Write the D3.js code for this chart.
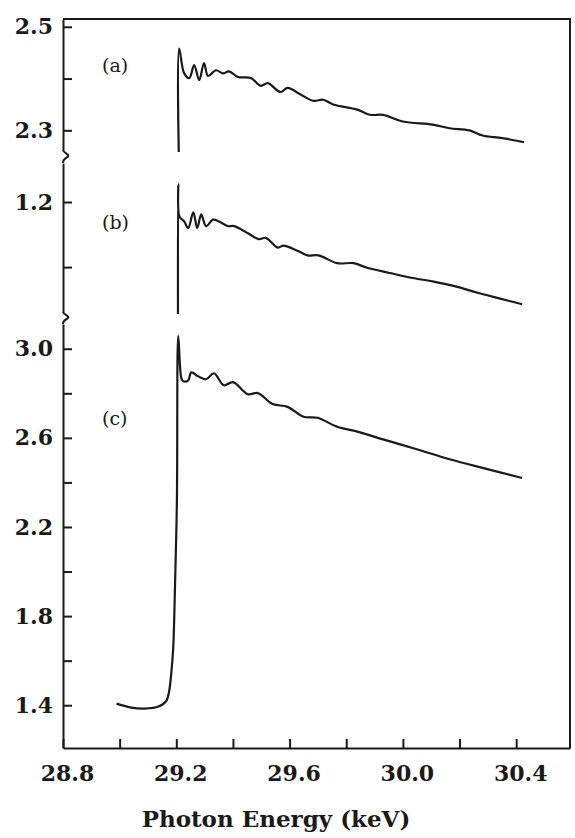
<!DOCTYPE html>
<html>
<head>
<meta charset="utf-8">
<script src="https://cdn.jsdelivr.net/npm/d3@7"></script>
<style>
  body { margin: 0; background: #fff; }
</style>
</head>
<body>
<div class="chart"></div>
<script>
// spectrum (a)
var energyA = [29.209, 29.210, 29.228, 29.246, 29.263, 29.281, 29.298, 29.312, 29.340, 29.365, 29.386, 29.418, 29.463, 29.498, 29.523, 29.568, 29.593, 29.639, 29.684, 29.719, 29.754, 29.839, 29.884, 29.930, 30.000, 30.105, 30.165, 30.235, 30.281, 30.351, 30.428];
var absA = [2.25, 2.458, 2.410, 2.401, 2.426, 2.397, 2.430, 2.405, 2.416, 2.410, 2.414, 2.403, 2.401, 2.386, 2.391, 2.374, 2.382, 2.369, 2.357, 2.359, 2.350, 2.340, 2.330, 2.330, 2.317, 2.311, 2.304, 2.300, 2.290, 2.285, 2.277];

// spectrum (b)
var energyB = [29.206, 29.207, 29.211, 29.228, 29.242, 29.260, 29.274, 29.288, 29.305, 29.330, 29.351, 29.382, 29.404, 29.453, 29.491, 29.516, 29.558, 29.579, 29.628, 29.663, 29.702, 29.768, 29.825, 29.874, 29.954, 30.025, 30.105, 30.189, 30.260, 30.340, 30.421];
var absB = [1.02, 1.227, 1.178, 1.170, 1.160, 1.184, 1.160, 1.181, 1.163, 1.173, 1.170, 1.163, 1.163, 1.152, 1.143, 1.145, 1.130, 1.133, 1.125, 1.118, 1.118, 1.106, 1.106, 1.099, 1.091, 1.084, 1.078, 1.070, 1.061, 1.052, 1.043];

// spectrum (c), with pre-edge
var energyC = [28.989, 29.042, 29.088, 29.137, 29.165, 29.175, 29.182, 29.189, 29.193, 29.202, 29.207, 29.218, 29.225, 29.242, 29.253, 29.277, 29.305, 29.333, 29.368, 29.400, 29.453, 29.488, 29.540, 29.593, 29.649, 29.698, 29.768, 29.839, 29.930, 30.049, 30.165, 30.281, 30.421];
var absC = [1.407, 1.389, 1.385, 1.394, 1.420, 1.465, 1.540, 1.655, 1.805, 2.305, 3.058, 2.867, 2.854, 2.858, 2.894, 2.876, 2.863, 2.889, 2.836, 2.850, 2.796, 2.801, 2.752, 2.739, 2.695, 2.690, 2.650, 2.628, 2.593, 2.549, 2.504, 2.465, 2.420];

var xTickValues = [28.8, 29.0, 29.2, 29.4, 29.6, 29.8, 30.0, 30.2, 30.4];
var xTickLabels = [28.8, 29.2, 29.6, 30.0, 30.4];

var panelNames = ["(a)", "(b)", "(c)"];
var yDomains = [[2.262, 2.515], [1.031, 1.260], [1.208, 3.111]];
var yTickValues = [[2.3, 2.4, 2.5], [1.1, 1.2], [1.4, 1.6, 1.8, 2.0, 2.2, 2.4, 2.6, 2.8, 3.0]];
var yTickLabels = [[2.3, 2.5], [1.2], [1.4, 1.8, 2.2, 2.6, 3.0]];

var W = 575, H = 838;
var mLeft = 63, mRight = 570, mTop = 19, mBottom = 748;
// pixel bands for the three broken segments
var bands = [[mTop, 150], [163, 312], [324, mBottom]];

var svg = d3.select(".chart")
    .append("svg")
    .attr("width", W)
    .attr("height", H)

var x = d3.scaleLinear().domain([28.8, 30.59]).range([mLeft, mRight]);

var fontTick = "'DejaVu Serif', serif";
var ink = "#1a1a1a";

var series = [
    d3.zip(energyA, absA),
    d3.zip(energyB, absB),
    d3.zip(energyC, absC)
];

function isLabel(list, d) {
    return list.some(function (v) { return Math.abs(v - d) < 1e-6; });
}

for (var i = 0; i < 3; i++) {
    var y = d3.scaleLinear().domain(yDomains[i]).range([bands[i][1], bands[i][0]]);

    svg.append("clipPath")
        .attr("id", "clip" + i)
        .append("rect")
        .attr("x", mLeft)
        .attr("y", bands[i][0])
        .attr("width", mRight - mLeft)
        .attr("height", bands[i][1] - bands[i][0] + 2);

    var labels = yTickLabels[i];
    var axis = d3.axisLeft(y)
        .tickValues(yTickValues[i])
        .tickSizeInner(-9)
        .tickSizeOuter(0)
        .tickPadding(10)
        .tickFormat(function (d) {
            return isLabel(labels, d) ? d3.format(".1f")(d) : "";
        });

    var g = svg.append("g")
        .attr("transform", "translate(" + mLeft + ",0)")
        .call(axis);
    g.selectAll("path, line").attr("stroke", ink).attr("stroke-width", 2);
    g.selectAll("text")
        .style("font-size", "22px")
        .attr("font-family", fontTick)
        .attr("font-weight", "bold")
        .attr("fill", ink);

    var line = d3.line()
        .curve(d3.curveCatmullRom.alpha(0.5))
        .x(function (d) { return x(d[0]); })
        .y(function (d) { return y(d[1]); });

    svg.append("path")
        .datum(series[i])
        .attr("clip-path", "url(#clip" + i + ")")
        .attr("d", line)
        .attr("fill", "none")
        .attr("stroke", ink)
        .attr("stroke-width", 2.2)
        .attr("stroke-linejoin", "round");
}

// axis breaks
[[150, 163], [312, 324]].forEach(function (b) {
    var m = (b[0] + b[1]) / 2;
    svg.append("path")
        .attr("d", "M" + mLeft + "," + b[0] + " C" + (mLeft + 1) + "," + (m - 3) + " " + (mLeft + 7) + "," + (m - 2) + " " + (mLeft + 5) + "," + m +
                   " C" + (mLeft + 3) + "," + (m + 2) + " " + mLeft + "," + (m + 2) + " " + mLeft + "," + b[1])
        .attr("fill", "none")
        .attr("stroke", ink)
        .attr("stroke-width", 2);
});

// frame top and right
svg.append("path")
    .attr("d", "M" + mLeft + "," + mTop + " L" + mRight + "," + mTop + " L" + mRight + "," + mBottom)
    .attr("fill", "none")
    .attr("stroke", ink)
    .attr("stroke-width", 2);

// x axis
var xAxis = d3.axisBottom(x)
    .tickValues(xTickValues)
    .tickSizeInner(-9)
    .tickSizeOuter(0)
    .tickPadding(17)
    .tickFormat(function (d) {
        return isLabel(xTickLabels, d) ? d3.format(".1f")(d) : "";
    });

var gx = svg.append("g")
    .attr("transform", "translate(0," + mBottom + ")")
    .call(xAxis);
gx.selectAll("path, line").attr("stroke", ink).attr("stroke-width", 2);
gx.selectAll("text")
    .attr("dx", 4)
    .style("font-size", "22px")
    .attr("font-family", fontTick)
    .attr("font-weight", "bold")
    .attr("fill", ink);

// panel letters
var letterY = [72, 229, 425];
for (var j = 0; j < 3; j++) {
    svg.append('text')
        .attr('x', 102)
        .attr('y', letterY[j])
        .text(panelNames[j])
        .style("font-size", "19px")
        .attr("font-family", fontTick)
        .attr("fill", ink)
}

svg.append('text')
    .attr('x', 276)
    .attr('y', 827)
    .attr("text-anchor", "middle")
    .text("Photon Energy (keV)")
    .style("font-size", "23px")
    .attr("font-weight", "bold")
    .attr("font-family", fontTick)
    .attr("fill", ink)
</script>
</body>
</html>
